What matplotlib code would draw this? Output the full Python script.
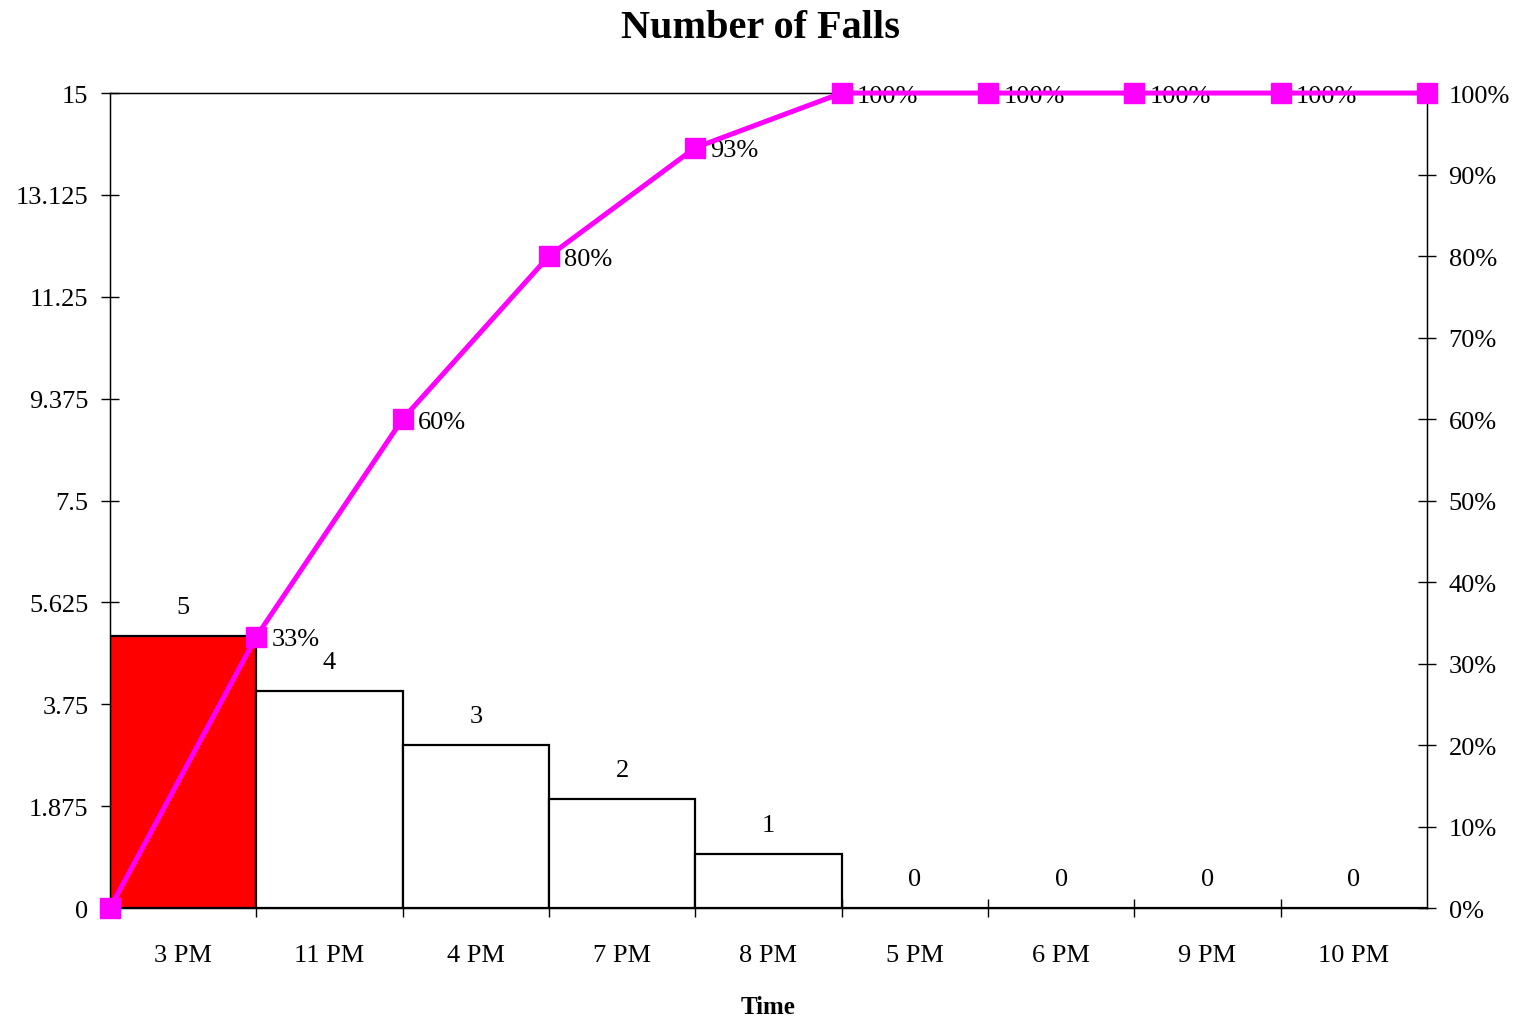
import matplotlib.pyplot as plt
from matplotlib.ticker import FixedLocator, FuncFormatter

plt.rcParams['font.family'] = ['Liberation Serif', 'DejaVu Serif']

times = ['3 PM', '11 PM', '4 PM', '7 PM', '8 PM', '5 PM', '6 PM', '9 PM', '10 PM']
falls = [5, 4, 3, 2, 1, 0, 0, 0, 0]
cum_pct = [0, 33.3, 60, 80, 93.3, 100, 100, 100, 100, 100]
pct_labels = ['33%', '60%', '80%', '93%', '100%', '100%', '100%', '100%']
bar_colors = ['#FF0000'] + ['white'] * 8

fig = plt.figure(figsize=(15.21, 10.2), dpi=100)
ax = fig.add_axes([0.0723, 0.1088, 0.8659, 0.799])

centers = [i + 0.5 for i in range(len(times))]
ax.bar(centers, falls, width=1.0, color=bar_colors, edgecolor='black', linewidth=1.6, zorder=2)
for c, v in zip(centers, falls):
    ax.annotate(str(v), (c, v), xytext=(0, 21), textcoords='offset points',
                ha='center', va='center', fontsize=19)

ax.set_xlim(0, len(times))
ax.set_ylim(0, 15)
yt = [i * 1.875 for i in range(9)]
ax.set_yticks(yt)
ax.yaxis.set_major_formatter(FuncFormatter(lambda v, p: '%g' % v))
ax.tick_params(axis='y', direction='inout', length=13, width=1, labelsize=19, pad=9)

ax.set_xticks(centers)
ax.set_xticklabels(times)
ax.xaxis.set_minor_locator(FixedLocator(range(1, len(times))))
ax.tick_params(axis='x', which='major', length=0, labelsize=19, pad=26)
ax.tick_params(axis='x', which='minor', direction='inout', length=13, width=1)
ax.set_xlabel('Time', fontsize=18, fontweight='bold', labelpad=21)
for s in ax.spines.values():
    s.set_linewidth(1)

ax2 = ax.twinx()
ax2.set_ylim(0, 100)
ax2.set_yticks(range(0, 101, 10))
ax2.yaxis.set_major_formatter(FuncFormatter(lambda v, p: '%d%%' % v))
ax2.tick_params(axis='y', direction='inout', length=13, width=1, labelsize=19, pad=9)
ax2.plot(range(len(cum_pct)), cum_pct, color='#FF00FF', linewidth=3.6,
         marker='s', markersize=14, clip_on=False, zorder=5)
for i, lab in enumerate(pct_labels, start=1):
    ax2.annotate(lab, (i, cum_pct[i]), xytext=(11, -2), textcoords='offset points',
                 ha='left', va='center', fontsize=19)

fig.suptitle('Number of Falls', fontsize=29, fontweight='bold', y=0.99)

fig.savefig('out.png', dpi=100)
